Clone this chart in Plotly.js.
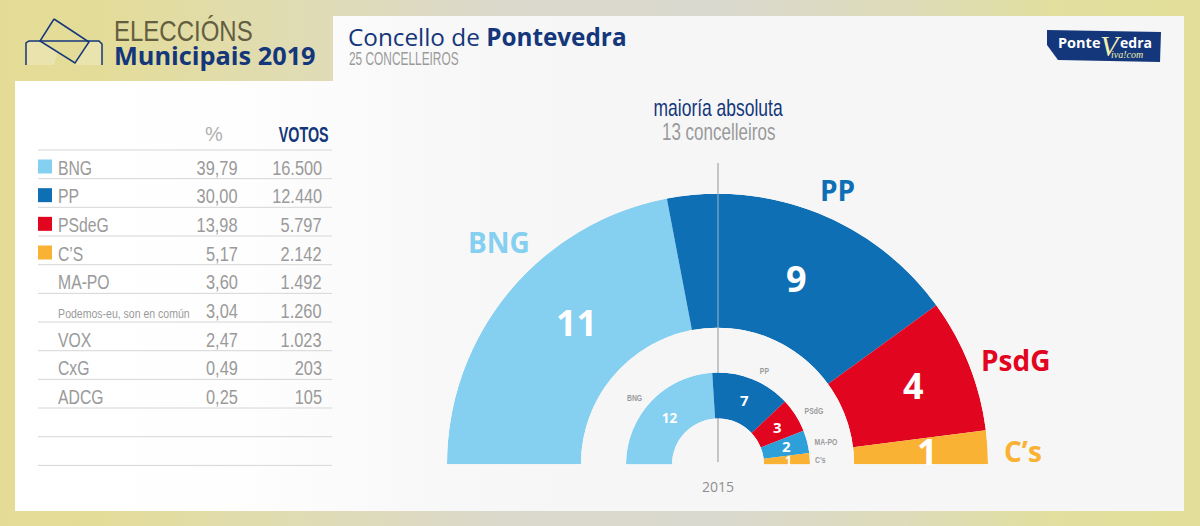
<!DOCTYPE html>
<html><head><meta charset="utf-8">
<script src="https://cdn.plot.ly/plotly-3.0.1.min.js"></script>
<style>
html,body{margin:0;padding:0;width:1200px;height:526px;overflow:hidden;
background:linear-gradient(90deg,#e4dc96 0%,#e3dc98 8%,#e0dcb4 25%,#dbd9cc 42%,#dad9cf 60%,#dedcb8 76%,#e2df9f 88%,#e3df9a 100%);}
#panel{position:absolute;left:0;top:0;width:1200px;height:526px;
clip-path:polygon(15px 81px,333px 81px,333px 16px,1184px 16px,1184px 511px,15px 511px);
background:linear-gradient(90deg,#ffffff 0%,#fefefe 20%,#f8f8f9 36%,#f6f6f7 50%,#f6f6f7 100%);}
#chart{position:absolute;left:0;top:0;width:1200px;height:526px;}
</style></head><body><div id="panel"></div><div id="chart"></div>
<script>
// ---- data ----
const tableParties = ["BNG","PP","PSdeG","C’S","MA-PO","Podemos-eu, son en común","VOX","CxG","ADCG"];
const tablePct = ["39,79","30,00","13,98","5,17","3,60","3,04","2,47","0,49","0,25"];
const tableVotes = ["16.500","12.440","5.797","2.142","1.492","1.260","1.023","203","105"];
const tableSwatches = ["#85cff0","#0f6fb5","#e2051f","#f9b233"];

const parties2019 = ["BNG","PP","PsdG","C’s"];
const seats2019 = [11,9,4,1];
const colors2019 = ["#85cff0","#0f6fb5","#e2051f","#f9b233"];

const parties2015 = ["BNG","PP","PSdG","MA-PO","C’s"];
const seats2015 = [12,7,3,2,1];
const colors2015 = ["#85cff0","#0f6fb5","#e2051f","#2d9fd9","#f9b233"];

// ---- helpers ----
const W=1200,H=526;
const px=x=>x/W, py=y=>1-y/H;
const COND='"Liberation Sans",sans-serif';
const SANS='"Open Sans",sans-serif';
const GREY='#9a9a9a', NAVY='#14367a';
const NARROW=0.75;

function txt(x,y,text,size,color,anchor,family,sx){
  return {xref:'paper',yref:'paper',x:px(x),y:py(y),text,showarrow:false,borderpad:0,borderwidth:0,
    xanchor:anchor||'left',yanchor:'middle',font:{size,color,family:family||COND},_sx:sx||1};
}
function seg(x0,y0,x1,y1,color,w,layer){
  return {type:'line',xref:'paper',yref:'paper',x0:px(x0),x1:px(x1),y0:py(y0),y1:py(y1),
    line:{color,width:w},layer:layer||'below'};
}
function poly(pts,fill,lineColor,lw){
  const p=pts.map((q,i)=>(i?'L':'M')+px(q[0])+','+py(q[1])).join(' ');
  return {type:'path',xref:'paper',yref:'paper',path:p,fillcolor:fill,line:{color:lineColor||'rgba(0,0,0,0)',width:lw||0},layer:'above'};
}
function arcTrace(names,seats,colors,subplot,label){
  const total=seats.reduce((a,b)=>a+b,0);
  let cum=0; const theta=[],width=[];
  seats.forEach(s=>{const d=s*180/total;theta.push(cum+d/2);width.push(d);cum+=d;});
  return {type:'barpolar',subplot,r:seats.map(()=>1),theta,width,name:label,
    text:names,customdata:seats,hovertemplate:'%{text}: %{customdata}<extra></extra>',
    marker:{color:colors,line:{width:0}},showlegend:false};
}
function polarCfg(x0,x1,ytop,ybase,hole){
  return {domain:{x:[px(x0),px(x1)],y:[py(ybase),py(ytop)]},sector:[0,180],hole,
    bgcolor:'rgba(0,0,0,0)',
    radialaxis:{visible:false,range:[0,1]},
    angularaxis:{visible:false,type:'linear',thetaunit:'degrees',direction:'clockwise',rotation:180}};
}

// ---- shapes ----
const shapes=[ seg(718,163,718,462,'#c0c0c0',1.8,'below'),
               seg(718,193,718,328,'rgba(190,200,210,0.5)',1.6,'above') ];
const rowTop=150,rowH=28.67;
for(let i=0;i<=11;i++){ shapes.push(seg(38,rowTop+i*rowH,332,rowTop+i*rowH,'#d6d6d6',1)); }
tableSwatches.forEach((c,i)=>shapes.push({type:'rect',xref:'paper',yref:'paper',
  x0:px(38),x1:px(52),y0:py(rowTop+i*rowH+9.5),y1:py(rowTop+i*rowH+23.5),fillcolor:c,line:{width:0},layer:'below'}));
// ballot icon
shapes.push(poly([[26,65],[26,43],[29,41],[99,41],[102,44],[102,65],[75,65],[75,63],[89,42],[40,41],[58,52],[54,65]],'rgba(255,255,255,0.22)'));
shapes.push(poly([[26,65],[26,43],[29,41],[99,41],[102,44],[102,65]],'rgba(0,0,0,0)',NAVY,1.5));
shapes.push(poly([[54,19],[89,42],[75,63],[40,41],[54,19]],'rgba(0,0,0,0)',NAVY,1.5));
// logo
shapes.push(poly([[1047,30],[1161,32],[1160,62],[1058,60],[1047,45]],'#14367a'));

// ---- annotations ----
const ann=[
  txt(114,30,'ELECCIÓNS',30,'#645e41','left',COND,0.8),
  txt(114,55,'<b>Municipais 2019</b>',25.3,NAVY,'left',SANS),
  txt(348,36,'Concello de <b>Pontevedra</b>',24.3,NAVY,'left',SANS),
  txt(349,59,'25 CONCELLEIROS',18,GREY,'left',COND,0.66),
  txt(214,134,'%',20,'#b0b0b0','center'),
  txt(329,134,'<b>VOTOS</b>',22,NAVY,'right',COND,0.65),
  txt(718,108,'maioría absoluta',23,NAVY,'center',COND,0.76),
  txt(718,132,'13 concelleiros',23,GREY,'center',COND,0.74),
  txt(499,242,'<b>BNG</b>',28,'#85cff0','center',SANS),
  txt(837,190,'<b>PP</b>',28,'#0f6fb5','center',SANS),
  txt(1016,360,'<b>PsdG</b>',28,'#e2051f','center',SANS),
  txt(1023,451,'<b>C’s</b>',28,'#f9b233','center',SANS),
  txt(576,322,'<b>11</b>',36,'#fff','center',SANS),
  txt(796,278,'<b>9</b>',36,'#fff','center',SANS),
  txt(913,385,'<b>4</b>',36,'#fff','center',SANS),
  txt(927,451,'<b>1</b>',36,'#fff','center',SANS),
  txt(670,417,'<b>12</b>',15,'#fff','center',SANS,0.9),
  txt(744,400,'<b>7</b>',15,'#fff','center',SANS),
  txt(777,427,'<b>3</b>',15,'#fff','center',SANS),
  txt(786,446,'<b>2</b>',15,'#fff','center',SANS),
  txt(788,460,'<b>1</b>',12,'#fff','center',SANS),
  txt(634,397,'<b>BNG</b>',9.5,GREY,'center',COND,0.72),
  txt(764,370,'<b>PP</b>',9.5,GREY,'center',COND,0.72),
  txt(814,410,'<b>PSdG</b>',9.5,GREY,'center',COND,0.72),
  txt(826,441,'<b>MA-PO</b>',9.5,GREY,'center',COND,0.72),
  txt(820,459,'<b>C’s</b>',9.5,GREY,'center',COND,0.72),
  txt(718,486,'2015',14,'#8f8f8f','center',SANS),
  txt(1058,43,'<b>Ponte</b>',14.5,'#fff','left',SANS),
  txt(1100,45,'<i>V</i>',30,'#eef0b0','left','"Liberation Serif",serif'),
  txt(1120,43,'<b>edra</b>',14,'#fff','left',SANS),
  txt(1111,55,'<i>iva!com</i>',10,'#eef0b0','left','"Liberation Serif",serif'),
];
tableParties.forEach((p,i)=>{
  const y=rowTop+i*rowH+17;
  const long=p.length>10;
  ann.push(txt(58,long?y+3:y,p,long?13:21,GREY,'left',COND,long?0.81:NARROW));
  ann.push(txt(238,y,tablePct[i],21,GREY,'right',COND,0.78));
  ann.push(txt(322,y,tableVotes[i],21,GREY,'right',COND,0.78));
});

Plotly.newPlot('chart',[
  arcTrace(parties2019,seats2019,colors2019,'polar','2019'),
  arcTrace(parties2015,seats2015,colors2015,'polar2','2015'),
],{
  width:W,height:H,margin:{l:0,r:0,t:0,b:0},
  paper_bgcolor:'rgba(0,0,0,0)',plot_bgcolor:'rgba(0,0,0,0)',
  polar:polarCfg(447,988,193.5,464.5,0.505),
  polar2:polarCfg(626,810,372.5,464.5,0.5),
  shapes,annotations:ann,showlegend:false
},{displayModeBar:false,staticPlot:true}).then(()=>{
  // narrow the condensed labels, anchored where each one is placed
  document.querySelectorAll('#chart .annotation').forEach((g,i)=>{
    const a=ann[i], t=g.querySelector('text');
    if(!a||!t||a._sx===1) return;
    t.style.transformBox='fill-box';
    t.style.transformOrigin=a.xanchor+' center';
    t.style.transform='scaleX('+a._sx+')';
  });
});
</script></body></html>
